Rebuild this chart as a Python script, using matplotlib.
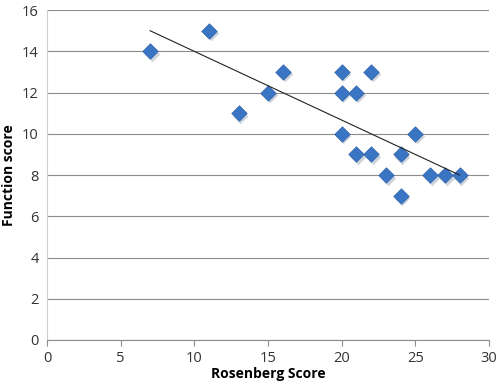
import numpy as np
import matplotlib
matplotlib.use("Agg")
import matplotlib.pyplot as plt

plt.rcParams["font.family"] = ["Open Sans", "DejaVu Sans"]

# Data
rosenberg = [7, 11, 13, 15, 16, 20, 20, 20, 21, 21, 22, 22, 23, 24, 24, 25, 26, 27, 28]
function_score = [14, 15, 11, 12, 13, 13, 12, 10, 12, 9, 13, 9, 8, 9, 7, 10, 8, 8, 8]

x = np.array(rosenberg, dtype=float)
y = np.array(function_score, dtype=float)
slope, intercept = np.polyfit(x, y, 1)
x_line = np.array([x.min(), x.max()])

fig = plt.figure(figsize=(5.0, 3.89), dpi=100)
ax = fig.add_axes([0.094, 0.126, 0.884, 0.848])

ax.set_xlim(0, 30)
ax.set_ylim(0, 16)
ax.set_xticks(np.arange(0, 31, 5))
ax.set_yticks(np.arange(0, 17, 2))
ax.yaxis.grid(True, color="#8c8c8c", lw=0.8)
ax.set_axisbelow(True)

for s in ["top", "right"]:
    ax.spines[s].set_visible(False)
ax.spines["left"].set_color("#d0d0d0")
ax.spines["bottom"].set_color("#8c8c8c")
ax.tick_params(axis="y", length=0, pad=6, labelsize=10.5, colors="#333333")
ax.tick_params(axis="x", length=4, color="#8c8c8c", pad=4, labelsize=10.5, labelcolor="#333333")

# shadow then markers
ax.scatter(x + 0.12, y - 0.12, marker="D", s=62, color="#9aa8b8", alpha=0.5, lw=0, zorder=2)
ax.scatter(x, y, marker="D", s=62, color="#3a75c4", edgecolor="#2f64aa", lw=0.5, zorder=3)
ax.plot(x_line, slope * x_line + intercept, color="#222222", lw=0.8, zorder=4)

ax.set_xlabel("Rosenberg Score", fontsize=10, fontweight="bold", labelpad=1)
ax.set_ylabel("Function score", fontsize=10, fontweight="bold", labelpad=4)

fig.savefig("out.png", dpi=100)
